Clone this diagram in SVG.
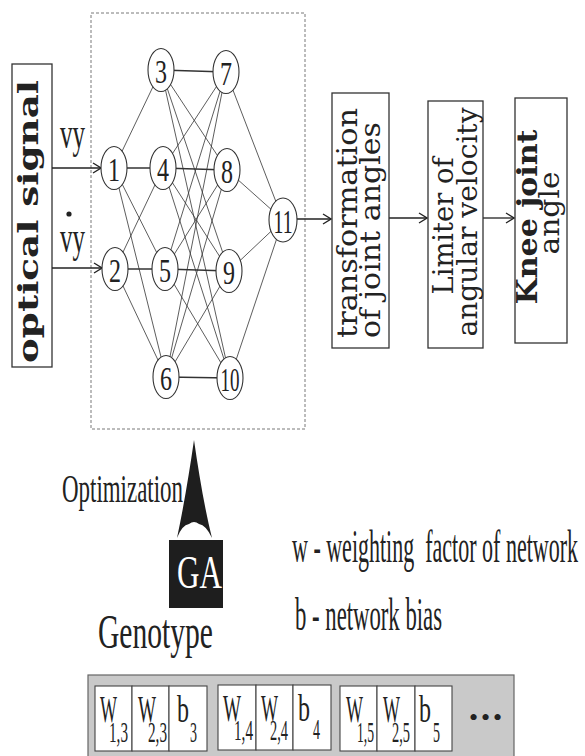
<svg xmlns="http://www.w3.org/2000/svg" width="585" height="756" viewBox="0 0 585 756">
  <defs>
    <marker id="open" markerWidth="10" markerHeight="12" refX="9" refY="6" orient="auto" markerUnits="userSpaceOnUse">
      <path d="M1,1 L9,6 L1,11" fill="none" stroke="#222" stroke-width="1.3"/>
    </marker>
    <style>
      .cond { font-family: "Liberation Serif", "Times New Roman", serif; fill: #222; }
      .book { font-family: "DejaVu Serif", "Liberation Serif", serif; fill: #222; }
      .box { fill: #fff; stroke: #333; stroke-width: 1.3; }
      .node ellipse { fill: #fff; stroke: #333; stroke-width: 1.1; }
      .node text { font-family: "Liberation Serif", "Times New Roman", serif; font-size: 34px; fill: #222; text-anchor: middle; }
      .thin { stroke: #333; stroke-width: 0.8; fill: none; }
      .thick { stroke: #333; stroke-width: 1.7; fill: none; }
      .arrow { stroke: #222; stroke-width: 1.3; fill: none; marker-end: url(#open); }
      .cell { fill: #fff; stroke: #444; stroke-width: 1.1; }
    </style>
  </defs>

  <rect width="585" height="756" fill="#fff"/>

  <!-- network frame -->
  <rect x="91" y="13" width="214" height="416" fill="none" stroke="#555" stroke-width="0.8" stroke-dasharray="3,2"/>

  <!-- input block -->
  <g id="optical-signal">
    <rect class="box" x="12" y="64" width="40" height="303"/>
    <text class="book" font-weight="bold" font-size="27" transform="translate(38,363) rotate(-90)" textLength="283" lengthAdjust="spacingAndGlyphs">optical signal</text>
  </g>

  <!-- input labels -->
  <g id="input-labels">
    <text class="cond" font-size="44" x="60" y="148" textLength="25" lengthAdjust="spacingAndGlyphs">vy</text>
    <text class="cond" font-size="44" x="60" y="252" textLength="25" lengthAdjust="spacingAndGlyphs">vy</text>
    <circle cx="69" cy="214" r="2.6" fill="#222"/>
  </g>

  <!-- connectors -->
  <g id="connectors">
    <!-- inputs -->
    <line class="arrow" x1="52" y1="168" x2="101" y2="168"/>
    <line class="arrow" x1="52" y1="268" x2="102" y2="268"/>
    <!-- layer 1 to layer 2 -->
    <line class="thin" x1="114" y1="168" x2="161" y2="70"/>
    <line class="thick" x1="114" y1="168" x2="163" y2="168"/>
    <line class="thin" x1="114" y1="168" x2="165" y2="269"/>
    <line class="thin" x1="114" y1="168" x2="166" y2="377"/>
    <line class="thin" x1="115" y1="269" x2="163" y2="168"/>
    <line class="thick" x1="115" y1="269" x2="165" y2="269"/>
    <line class="thin" x1="115" y1="269" x2="166" y2="377"/>
    <!-- layer 2 to layer 3 -->
    <line class="thick" x1="161" y1="70" x2="226" y2="72"/>
    <line class="thin" x1="161" y1="70" x2="227" y2="170"/>
    <line class="thin" x1="161" y1="70" x2="229" y2="271"/>
    <line class="thin" x1="161" y1="70" x2="230" y2="378"/>
    <line class="thin" x1="163" y1="168" x2="226" y2="72"/>
    <line class="thick" x1="163" y1="168" x2="227" y2="170"/>
    <line class="thin" x1="163" y1="168" x2="229" y2="271"/>
    <line class="thin" x1="163" y1="168" x2="230" y2="378"/>
    <line class="thin" x1="165" y1="269" x2="226" y2="72"/>
    <line class="thin" x1="165" y1="269" x2="227" y2="170"/>
    <line class="thick" x1="165" y1="269" x2="229" y2="271"/>
    <line class="thin" x1="165" y1="269" x2="230" y2="378"/>
    <line class="thin" x1="166" y1="377" x2="226" y2="72"/>
    <line class="thin" x1="166" y1="377" x2="227" y2="170"/>
    <line class="thin" x1="166" y1="377" x2="229" y2="271"/>
    <line class="thick" x1="166" y1="377" x2="230" y2="378"/>
    <!-- layer 3 to output -->
    <line class="thin" x1="226" y1="72" x2="283" y2="220"/>
    <line class="thin" x1="227" y1="170" x2="283" y2="220" stroke-width="1.3"/>
    <line class="thin" x1="229" y1="271" x2="283" y2="220"/>
    <line class="thin" x1="230" y1="378" x2="283" y2="220"/>
    <!-- processing chain -->
    <line class="arrow" x1="296" y1="219" x2="331" y2="219"/>
    <line class="arrow" x1="389" y1="218" x2="427" y2="218"/>
    <line class="arrow" x1="483" y1="218" x2="514" y2="218"/>
  </g>

  <!-- neurons -->
  <g id="n1" class="node"><ellipse cx="114" cy="168" rx="13" ry="21.5"/><text x="114" y="181" textLength="12" lengthAdjust="spacingAndGlyphs">1</text></g>
  <g id="n2" class="node"><ellipse cx="115" cy="269" rx="13" ry="21.5"/><text x="115" y="282" textLength="12" lengthAdjust="spacingAndGlyphs">2</text></g>
  <g id="n3" class="node"><ellipse cx="161" cy="70" rx="13" ry="21.5"/><text x="161" y="83" textLength="12" lengthAdjust="spacingAndGlyphs">3</text></g>
  <g id="n4" class="node"><ellipse cx="163" cy="168" rx="13" ry="21.5"/><text x="163" y="181" textLength="12" lengthAdjust="spacingAndGlyphs">4</text></g>
  <g id="n5" class="node"><ellipse cx="165" cy="269" rx="13" ry="21.5"/><text x="165" y="282" textLength="12" lengthAdjust="spacingAndGlyphs">5</text></g>
  <g id="n6" class="node"><ellipse cx="166" cy="377" rx="13" ry="21.5"/><text x="166" y="390" textLength="12" lengthAdjust="spacingAndGlyphs">6</text></g>
  <g id="n7" class="node"><ellipse cx="226" cy="72" rx="13" ry="21.5"/><text x="226" y="85" textLength="12" lengthAdjust="spacingAndGlyphs">7</text></g>
  <g id="n8" class="node"><ellipse cx="227" cy="170" rx="13" ry="21.5"/><text x="227" y="183" textLength="12" lengthAdjust="spacingAndGlyphs">8</text></g>
  <g id="n9" class="node"><ellipse cx="229" cy="271" rx="13" ry="21.5"/><text x="229" y="284" textLength="12" lengthAdjust="spacingAndGlyphs">9</text></g>
  <g id="n10" class="node"><ellipse cx="230" cy="378" rx="13" ry="21.5"/><text x="230" y="391" textLength="19" lengthAdjust="spacingAndGlyphs">10</text></g>
  <g id="n11" class="node"><ellipse cx="283" cy="220" rx="14" ry="22"/><text x="283" y="233" textLength="19" lengthAdjust="spacingAndGlyphs">11</text></g>

  <!-- processing blocks -->
  <g id="transformation">
    <rect class="box" x="332" y="93" width="57" height="255"/>
    <text class="book" font-size="27" transform="translate(357,338) rotate(-90)" textLength="230" lengthAdjust="spacingAndGlyphs">transformation</text>
    <text class="book" font-size="27" transform="translate(380,338) rotate(-90)" textLength="216" lengthAdjust="spacingAndGlyphs">of joint angles</text>
  </g>
  <g id="limiter">
    <rect class="box" x="428" y="101" width="55" height="247"/>
    <text class="book" font-size="27" text-anchor="middle" transform="translate(453,226) rotate(-90)" textLength="137" lengthAdjust="spacingAndGlyphs">Limiter of</text>
    <text class="book" font-size="27" text-anchor="middle" transform="translate(477,222) rotate(-90)" textLength="229" lengthAdjust="spacingAndGlyphs">angular velocity</text>
  </g>
  <g id="knee">
    <rect class="box" x="515" y="98" width="52" height="245"/>
    <text class="book" font-size="27" font-weight="bold" text-anchor="middle" transform="translate(537,217) rotate(-90)" textLength="175" lengthAdjust="spacingAndGlyphs">Knee joint</text>
    <text class="book" font-size="27" text-anchor="middle" transform="translate(559,213) rotate(-90)" textLength="83" lengthAdjust="spacingAndGlyphs">angle</text>
  </g>

  <!-- optimisation -->
  <g id="optimization">
    <path d="M194,440 C199,475 205,510 212,538 Q206,525 199,524 Q194,520 189,524 Q182,525 177,538 C183,510 189,475 194,440 Z" fill="#1e1e1e"/>
    <text class="cond" font-size="39" x="62" y="502" textLength="121" lengthAdjust="spacingAndGlyphs">Optimization</text>
  </g>
  <g id="ga">
    <rect x="169" y="540" width="54" height="68" fill="#1e1e1e"/>
    <text class="cond" font-size="46" x="177" y="588" textLength="45" lengthAdjust="spacingAndGlyphs" style="fill:#fff">GA</text>
  </g>

  <!-- legend -->
  <g id="legend">
    <text class="cond" font-size="46" x="292" y="562" textLength="286" lengthAdjust="spacingAndGlyphs">w - weighting&#160; factor of network</text>
    <text class="cond" font-size="46" x="295" y="630" textLength="147" lengthAdjust="spacingAndGlyphs">b - network bias</text>
  </g>

  <!-- genotype -->
  <g id="genotype">
    <text class="cond" font-size="48" x="98" y="648" textLength="115" lengthAdjust="spacingAndGlyphs">Genotype</text>
    <rect x="88" y="675" width="426" height="90" fill="#c9c9c9" stroke="#666" stroke-width="1.2"/>
    <!-- neuron 3 -->
    <rect class="cell" x="95" y="686" width="37" height="65"/>
    <rect class="cell" x="132" y="686" width="37" height="65"/>
    <rect class="cell" x="169" y="686" width="38" height="65"/>
    <!-- neuron 4 -->
    <rect class="cell" x="218" y="685" width="38" height="65"/>
    <rect class="cell" x="256" y="685" width="37" height="65"/>
    <rect class="cell" x="293" y="685" width="38" height="65"/>
    <!-- neuron 5 -->
    <rect class="cell" x="340" y="686" width="37" height="65"/>
    <rect class="cell" x="377" y="686" width="38" height="65"/>
    <rect class="cell" x="415" y="686" width="37" height="65"/>

    <g class="cond" font-size="38">
      <text x="100" y="722" textLength="17" lengthAdjust="spacingAndGlyphs">W</text>
      <text x="138" y="722" textLength="18" lengthAdjust="spacingAndGlyphs">W</text>
      <text x="177" y="722" textLength="12" lengthAdjust="spacingAndGlyphs">b</text>
      <text x="223" y="721" textLength="18" lengthAdjust="spacingAndGlyphs">W</text>
      <text x="261" y="721" textLength="17" lengthAdjust="spacingAndGlyphs">W</text>
      <text x="298" y="721" textLength="12" lengthAdjust="spacingAndGlyphs">b</text>
      <text x="346" y="722" textLength="17" lengthAdjust="spacingAndGlyphs">W</text>
      <text x="383" y="722" textLength="17" lengthAdjust="spacingAndGlyphs">W</text>
      <text x="419" y="722" textLength="12" lengthAdjust="spacingAndGlyphs">b</text>
    </g>
    <g class="cond" font-size="29">
      <text x="109" y="742" textLength="19" lengthAdjust="spacingAndGlyphs">1,3</text>
      <text x="148" y="742" textLength="19" lengthAdjust="spacingAndGlyphs">2,3</text>
      <text x="190" y="742" textLength="7" lengthAdjust="spacingAndGlyphs">3</text>
      <text x="234" y="740" textLength="19" lengthAdjust="spacingAndGlyphs">1,4</text>
      <text x="270" y="740" textLength="18" lengthAdjust="spacingAndGlyphs">2,4</text>
      <text x="313" y="739" textLength="7" lengthAdjust="spacingAndGlyphs">4</text>
      <text x="357" y="742" textLength="17" lengthAdjust="spacingAndGlyphs">1,5</text>
      <text x="392" y="742" textLength="18" lengthAdjust="spacingAndGlyphs">2,5</text>
      <text x="433" y="742" textLength="7" lengthAdjust="spacingAndGlyphs">5</text>
    </g>
    <text class="cond" font-size="26" x="469" y="726" textLength="33" lengthAdjust="spacing">•••</text>
  </g>
</svg>
